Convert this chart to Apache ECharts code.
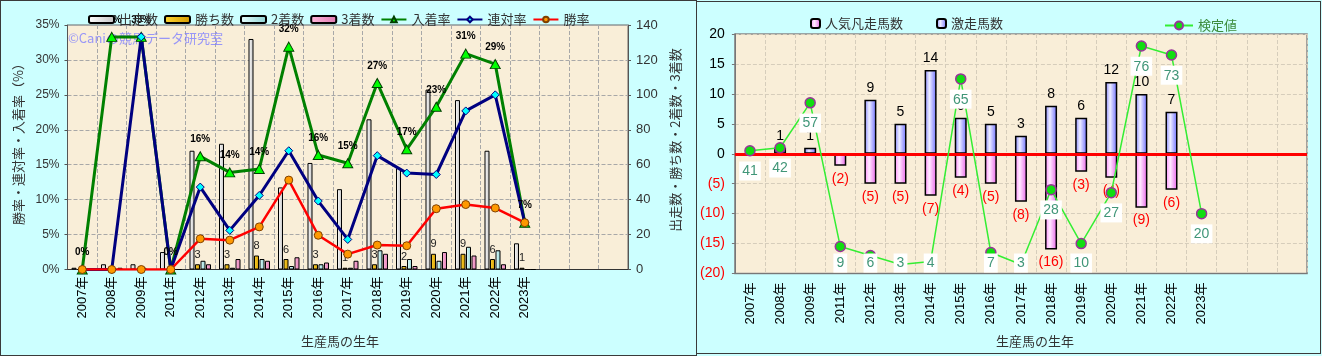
<!DOCTYPE html>
<html><head><meta charset="utf-8">
<script src="https://cdn.jsdelivr.net/npm/echarts@6/dist/echarts.min.js"></script>
<style>
html,body{margin:0;padding:0;background:#ccffff;}
#wrap{position:relative;width:1322px;height:356px;overflow:hidden;background:#ccffff;}
#c1{position:absolute;left:0;top:0;width:697px;height:356px;}
#c2{position:absolute;left:697px;top:0;width:625px;height:356px;}
.bd{position:absolute;border:1px solid #3a3a3a;pointer-events:none;box-sizing:border-box;}
</style></head>
<body><div id="wrap"><div id="c1"></div><div id="c2"></div>
<div class="bd" style="left:0;top:0;width:697px;height:356px"></div>
<div class="bd" style="left:696px;top:1px;width:625px;height:353px"></div>
</div>
<script>
// ---------- data ----------
const categories = ['2007年','2008年','2009年','2011年','2012年','2013年','2014年','2015年','2016年','2017年','2018年','2019年','2020年','2021年','2022年','2023年','','',''];
// left chart counts
const starts  = [1, 3, 3, 10, 68, 72, 132, 47, 61, 46, 86, 58, 103, 97, 68, 15];
const wins    = [0, 0, 0, 0, 3, 3, 8, 6, 3, 1, 3, 2, 9, 9, 6, 1];
const seconds = [0, 0, 1, 0, 5, 1, 6, 2, 3, 1, 11, 6, 5, 13, 11, 0];
const thirds  = [0, 1, 0, 0, 3, 6, 5, 7, 4, 5, 9, 2, 10, 8, 3, 0];
// left chart rates (%)
const placeRate = [0, 33.3, 33.3, 0, 16.2, 13.9, 14.4, 31.9, 16.4, 15.2, 26.7, 17.2, 23.3, 30.9, 29.4, 6.7];
const top2Rate  = [0, 0, 33.3, 0, 11.8, 5.6, 10.6, 17.0, 9.8, 4.3, 16.3, 13.8, 13.6, 22.7, 25.0, 6.7];
const winRate   = [0, 0, 0, 0, 4.4, 4.2, 6.1, 12.8, 4.9, 2.2, 3.5, 3.4, 8.7, 9.3, 8.8, 6.7];
const leftPctTicks = [0, 35, 5];     // min, max, step
const leftCountTicks = [0, 140, 20];
// right chart
const hotRunners  = [0, 1, 1, 0, 9, 5, 14, 6, 5, 3, 8, 6, 12, 10, 7, 0];
const favFlops    = [0, 0, 0, -2, -5, -5, -7, -4, -5, -8, -16, -3, -4, -9, -6, 0];
const testValues  = [41, 42, 57, 9, 6, 3, 4, 65, 7, 3, 28, 10, 27, 76, 73, 20];
const rightTicks = [-20, 20, 5];
const testAxis = [0, 80];

const FF = "'Liberation Sans','Noto Sans CJK JP',sans-serif";
const JP = "'Noto Sans CJK JP',sans-serif";
const LG = echarts.graphic.LinearGradient;

// ---------- left chart ----------
const c1 = echarts.init(document.getElementById('c1'));
const barBase = {type:'bar', yAxisIndex:1, barWidth:5, barGap:'10%'};
c1.setOption({
  animation:false,
  textStyle:{fontFamily:FF},
  legend:{left:83, top:8, itemWidth:25, itemHeight:7, itemGap:6,
    textStyle:{fontSize:13, color:'#333', fontFamily:JP},
    data:['出走数','勝ち数','2着数','3着数','入着率','連対率','勝率']},
  grid:{left:67.5, top:25, width:560.5, height:244.5, show:true, backgroundColor:'#f9eed8', borderColor:'#666', borderWidth:1},
  xAxis:{type:'category', data:categories, boundaryGap:true,
    axisLine:{lineStyle:{color:'#333'}}, axisTick:{show:false},
    axisLabel:{rotate:90, interval:0, fontSize:13, color:'#000', margin:7, fontFamily:FF},
    splitLine:{show:true, interval:0, lineStyle:{color:'#a8a8a8', type:'dashed'}}},
  yAxis:[
    {type:'value', min:leftPctTicks[0], max:leftPctTicks[1], interval:leftPctTicks[2], position:'left',
     axisLine:{show:true, lineStyle:{color:'#555'}}, axisTick:{show:true, length:3, lineStyle:{color:'#555'}},
     axisLabel:{formatter:'{value}%', fontSize:12, color:'#333', margin:8},
     splitLine:{lineStyle:{color:'#a8a8a8', type:'dashed'}}},
    {type:'value', min:leftCountTicks[0], max:leftCountTicks[1], interval:leftCountTicks[2], position:'right',
     axisLine:{show:true, lineStyle:{color:'#555'}}, axisTick:{show:true, length:3, lineStyle:{color:'#555'}},
     axisLabel:{fontSize:13, color:'#333', margin:8}, splitLine:{show:false}}
  ],
  series:[
    Object.assign({}, barBase, {name:'出走数', data:starts,
      itemStyle:{color:new LG(0,0,1,0,[{offset:0,color:'#ffffff'},{offset:1,color:'#c4c4c4'}]), borderColor:'#000', borderWidth:1}}),
    Object.assign({}, barBase, {name:'勝ち数', data:wins,
      itemStyle:{color:new LG(0,0,1,0,[{offset:0,color:'#ffd633'},{offset:1,color:'#d49a00'}]), borderColor:'#000', borderWidth:1},
      label:{show:true, position:'top', distance:4, fontSize:11, color:'#222',
        formatter:p=>p.value>0?String(p.value):''}}),
    Object.assign({}, barBase, {name:'2着数', data:seconds,
      itemStyle:{color:new LG(0,0,1,0,[{offset:0,color:'#e8ffff'},{offset:1,color:'#8fd4d4'}]), borderColor:'#000', borderWidth:1}}),
    Object.assign({}, barBase, {name:'3着数', data:thirds,
      itemStyle:{color:new LG(0,0,1,0,[{offset:0,color:'#ffb8dc'},{offset:1,color:'#e07ab2'}]), borderColor:'#000', borderWidth:1}}),
    {name:'入着率', type:'line', yAxisIndex:0, data:placeRate,
      lineStyle:{color:'#008000', width:3}, symbol:'triangle', symbolSize:[10,9],
      itemStyle:{color:'#00ff00', borderColor:'#004000', borderWidth:1},
      label:{show:true, position:'top', distance:7, fontSize:10, fontWeight:'bold', color:'#000', fontFamily:"'Liberation Sans',sans-serif",
        formatter:p=>Math.round(p.value)+'%'}},
    {name:'連対率', type:'line', yAxisIndex:0, data:top2Rate,
      lineStyle:{color:'#000080', width:3}, symbol:'diamond', symbolSize:8,
      itemStyle:{color:'#00ffff', borderColor:'#000080', borderWidth:1}},
    {name:'勝率', type:'line', yAxisIndex:0, data:winRate,
      lineStyle:{color:'#ff0000', width:2.5}, symbol:'circle', symbolSize:8,
      itemStyle:{color:'#ff9900', borderColor:'#804000', borderWidth:1}}
  ],
  graphic:[
    {type:'text', x:68, y:38, z:1, style:{text:'©Caniの競馬データ研究室', font:"13px "+JP, fill:'rgba(128,128,255,0.8)', textAlign:'left', textVerticalAlign:'middle'}},
    {type:'text', x:18, y:141, rotation:Math.PI/2, style:{text:'勝率・連対率・入着率（%）', font:"13px "+JP, fill:'#333', textAlign:'center', textVerticalAlign:'middle'}},
    {type:'text', x:675, y:140, rotation:Math.PI/2, style:{text:'出走数・勝ち数・2着数・3着数', font:"13px "+JP, fill:'#333', textAlign:'center', textVerticalAlign:'middle'}},
    {type:'text', x:340, y:341, style:{text:'生産馬の生年', font:"13px "+JP, fill:'#333', textAlign:'center', textVerticalAlign:'middle'}}
  ]
});

// ---------- right chart ----------
const c2 = echarts.init(document.getElementById('c2'));
const gTop = 34, gH = 239.5, plotBottom = gTop + gH;
c2.setOption({
  animation:false,
  textStyle:{fontFamily:FF},
  legend:[
    {left:108, top:12, itemWidth:9, itemHeight:9, textStyle:{fontSize:13, color:'#333', fontFamily:JP}, data:['人気凡走馬数']},
    {left:234, top:12, itemWidth:9, itemHeight:9, textStyle:{fontSize:13, color:'#333', fontFamily:JP}, data:['激走馬数']},
    {left:462, top:14, itemWidth:28, itemHeight:10, textStyle:{fontSize:13, color:'#3c8c3c', fontFamily:JP}, data:['検定値']}
  ],
  grid:{left:36.5, top:gTop, width:573.5, height:gH, show:true, backgroundColor:'#f9eed8', borderColor:'#888', borderWidth:1.5},
  xAxis:{type:'category', data:categories, boundaryGap:true,
    axisLine:{onZero:false, lineStyle:{color:'#777'}}, axisTick:{show:false},
    axisLabel:{rotate:90, interval:0, fontSize:13, color:'#000', margin:9},
    splitLine:{show:true, interval:0, lineStyle:{color:'#d6cdbb', type:'dashed'}}},
  yAxis:[
    {type:'value', min:rightTicks[0], max:rightTicks[1], interval:rightTicks[2],
     axisLine:{show:true, lineStyle:{color:'#777'}}, axisTick:{show:true, length:3},
     axisLabel:{margin:10, formatter:v=>v<0?'{r|('+(-v)+')}':'{k|'+v+'}',
       rich:{r:{color:'#ff0000', fontSize:14}, k:{color:'#000', fontSize:14}}},
     splitLine:{lineStyle:{color:'#d6cdbb', type:'dashed'}}},
    {type:'value', min:testAxis[0], max:testAxis[1], show:false, splitLine:{show:false}}
  ],
  series:[
    {name:'人気凡走馬数', type:'bar', data:favFlops, barWidth:12, barGap:'-100%',
      itemStyle:{color:new LG(0,0,1,0,[{offset:0,color:'#ff88ff'},{offset:0.4,color:'#ffeaff'},{offset:1,color:'#e860e8'}]), borderColor:'#000', borderWidth:1.5},
      label:{show:true, position:'bottom', distance:6, fontSize:14, color:'#ff0000',
        formatter:p=>p.value<0?'('+(-p.value)+')':''}},
    {name:'激走馬数', type:'bar', data:hotRunners, barWidth:12, barGap:'-100%',
      itemStyle:{color:new LG(0,0,1,0,[{offset:0,color:'#8080ff'},{offset:0.4,color:'#eeeeff'},{offset:1,color:'#6a6aff'}]), borderColor:'#000', borderWidth:1.5},
      label:{show:true, position:'top', distance:5, fontSize:14, color:'#000',
        formatter:p=>p.value>0?String(p.value):''},
      markLine:{silent:true, symbol:['none','none'], label:{show:false},
        lineStyle:{color:'#ff0000', width:3, type:'solid'}, data:[{yAxis:0}]}},
    {name:'検定値', type:'line', yAxisIndex:1, data:testValues, z:5,
      lineStyle:{color:'#33ee33', width:1.5}, symbol:'circle', symbolSize:10,
      itemStyle:{color:'#11dd11', borderColor:'#993399', borderWidth:1.5},
      label:{show:true, position:'bottom', distance:5, fontSize:14, color:'#409678',
        backgroundColor:'#ffffff', padding:[3,3,2,3]},
      labelLayout:function(p){
        const r = p.labelRect;
        const over = r.y + r.height - (plotBottom - 1);
        return over > 0 ? {dy:-over} : {};
      }}
  ],
  graphic:[
    {type:'text', x:338, y:341, style:{text:'生産馬の生年', font:"13px "+JP, fill:'#333', textAlign:'center', textVerticalAlign:'middle'}}
  ]
});
</script>
</body></html>
